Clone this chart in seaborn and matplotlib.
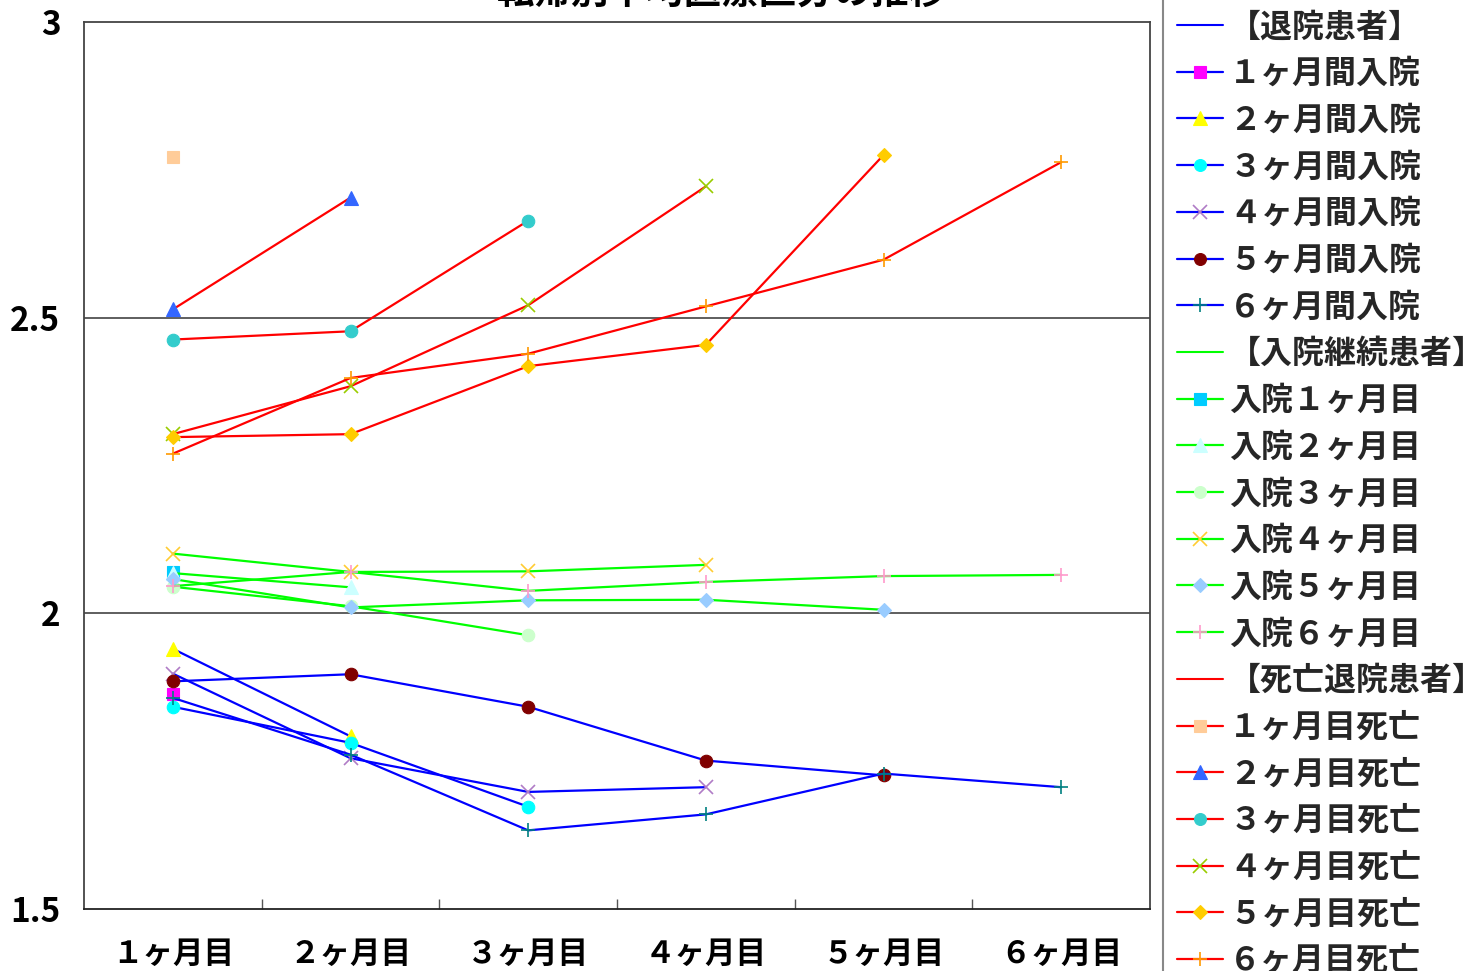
import numpy as np
import matplotlib
matplotlib.use("Agg")
import matplotlib.pyplot as plt
from matplotlib.lines import Line2D
import seaborn as sns

sns.set_theme(style="white")
plt.rcParams["font.family"] = ["Noto Sans CJK JP", "DejaVu Sans"]
plt.rcParams["axes.unicode_minus"] = False

# ---- data -------------------------------------------------------------
title = "転帰別平均医療区分の推移"
months = ["１ヶ月目", "２ヶ月目", "３ヶ月目", "４ヶ月目", "５ヶ月目", "６ヶ月目"]

# discharged patients (退院患者), by length of stay
head_discharged = "【退院患者】"
labels_discharged = ["１ヶ月間入院", "２ヶ月間入院", "３ヶ月間入院",
                     "４ヶ月間入院", "５ヶ月間入院", "６ヶ月間入院"]
discharged_1 = [1.864]
discharged_2 = [1.940, 1.792]
discharged_3 = [1.842, 1.781, 1.673]
discharged_4 = [1.898, 1.755, 1.698, 1.706]
discharged_5 = [1.885, 1.897, 1.842, 1.751, 1.726]
discharged_6 = [1.857, 1.761, 1.633, 1.660, 1.729, 1.706]

# patients still in hospital (入院継続患者)
head_continuing = "【入院継続患者】"
labels_continuing = ["入院１ヶ月目", "入院２ヶ月目", "入院３ヶ月目",
                     "入院４ヶ月目", "入院５ヶ月目", "入院６ヶ月目"]
continuing_1 = [2.070]
continuing_2 = [2.068, 2.044]
continuing_3 = [2.045, 2.012, 1.963]
continuing_4 = [2.101, 2.070, 2.071, 2.082]
continuing_5 = [2.058, 2.010, 2.022, 2.023, 2.006]
continuing_6 = [2.046, 2.070, 2.038, 2.053, 2.063, 2.065]

# patients discharged by death (死亡退院患者)
head_deceased = "【死亡退院患者】"
labels_deceased = ["１ヶ月目死亡", "２ヶ月目死亡", "３ヶ月目死亡",
                   "４ヶ月目死亡", "５ヶ月目死亡", "６ヶ月目死亡"]
deceased_1 = [2.771]
deceased_2 = [2.514, 2.703]
deceased_3 = [2.463, 2.477, 2.664]
deceased_4 = [2.303, 2.384, 2.521, 2.722]
deceased_5 = [2.298, 2.303, 2.418, 2.454, 2.775]
deceased_6 = [2.270, 2.398, 2.439, 2.519, 2.598, 2.763]

y_ticks = [1.5, 2.0, 2.5, 3.0]
y_tick_labels = ["1.5", "2", "2.5", "3"]

# ---- styles -----------------------------------------------------------
groups = [
    dict(head=head_discharged, line="#0000FF",
         labels=labels_discharged,
         series=[discharged_1, discharged_2, discharged_3,
                 discharged_4, discharged_5, discharged_6],
         markers=["s", "^", "o", "x", "o", "+"],
         mcolors=["#FF00FF", "#FFFF00", "#00FFFF", "#B07CC6", "#800000", "#008080"]),
    dict(head=head_continuing, line="#00FF00",
         labels=labels_continuing,
         series=[continuing_1, continuing_2, continuing_3,
                 continuing_4, continuing_5, continuing_6],
         markers=["s", "^", "o", "x", "D", "+"],
         mcolors=["#00CCFF", "#CCFFFF", "#CCFFCC", "#FFCC33", "#99CCFF", "#FF99CC"]),
    dict(head=head_deceased, line="#FF0000",
         labels=labels_deceased,
         series=[deceased_1, deceased_2, deceased_3,
                 deceased_4, deceased_5, deceased_6],
         markers=["s", "^", "o", "x", "D", "+"],
         mcolors=["#FFCC99", "#3366FF", "#33CCCC", "#99CC00", "#FFCC00", "#FF9900"]),
]
msizes = {"s": 9, "^": 10, "o": 9, "x": 10, "D": 7.5, "+": 10}

# ---- figure -----------------------------------------------------------
fig = plt.figure(figsize=(14.72, 9.71), dpi=100, facecolor="white")
ax = fig.add_axes([84 / 1472, 62 / 971, 1066 / 1472, 887 / 971])
ax.set_facecolor("white")

handles, names = [], []
for g in groups:
    handles.append(Line2D([], [], color=g["line"], lw=1.5))
    names.append(g["head"])
    for vals, mk, mc, lab in zip(g["series"], g["markers"], g["mcolors"], g["labels"]):
        x = np.arange(len(vals))
        filled = mk not in ("x", "+")
        sns.lineplot(x=x, y=vals, ax=ax, color=g["line"], linewidth=1.6,
                     marker=mk, markersize=msizes[mk],
                     markerfacecolor=mc, markeredgecolor=mc,
                     markeredgewidth=0.8 if filled else 1.2,
                     legend=False, zorder=3)
        handles.append(Line2D([], [], color=g["line"], lw=1.6, marker=mk,
                              markersize=msizes[mk] * 0.95,
                              markerfacecolor=mc, markeredgecolor=mc,
                              markeredgewidth=0.8 if filled else 1.2))
        names.append(lab)

ax.set_xlim(-0.5, 5.5)
ax.set_ylim(1.5, 3.0)
ax.set_xlabel("")
ax.set_ylabel("")

ax.set_xticks(np.arange(len(months)))
ax.set_xticklabels(months, fontsize=22, fontweight="bold")
ax.set_xticks(np.arange(0.5, len(months) - 1, 1.0), minor=True)
ax.tick_params(axis="x", which="major", length=0, pad=21, colors="black")
ax.tick_params(axis="x", which="minor", direction="in", length=7,
               width=1, color="#555555", bottom=True)

ax.set_yticks(y_ticks)
ax.set_yticklabels(y_tick_labels, fontsize=24, fontweight="bold")
ax.tick_params(axis="y", length=0, pad=17, colors="black")

ax.grid(False)
for yv in (2.0, 2.5):
    ax.axhline(yv, color="#333333", lw=1.1, zorder=1)

for side, sp in ax.spines.items():
    sp.set_visible(True)
    sp.set_color("#444444")
    sp.set_linewidth(1.3)
ax.spines["bottom"].set_color("#222222")

fig.text(722 / 1472, 1.008, title, ha="center", va="center",
         fontsize=27, fontweight="bold", color="black")

leg = fig.legend(handles, names, loc="upper left",
                 bbox_to_anchor=(1163 / 1472, 1.0032),
                 bbox_transform=fig.transFigure,
                 prop=dict(size=23, weight="bold"),
                 handlelength=1.42, handletextpad=0.2,
                 labelspacing=0.46, borderpad=0.45, borderaxespad=0.0,
                 frameon=True, fancybox=False, framealpha=1,
                 edgecolor="#888888")
leg.get_frame().set_linewidth(1.5)

fig.savefig("out.png", dpi=100, facecolor="white")
